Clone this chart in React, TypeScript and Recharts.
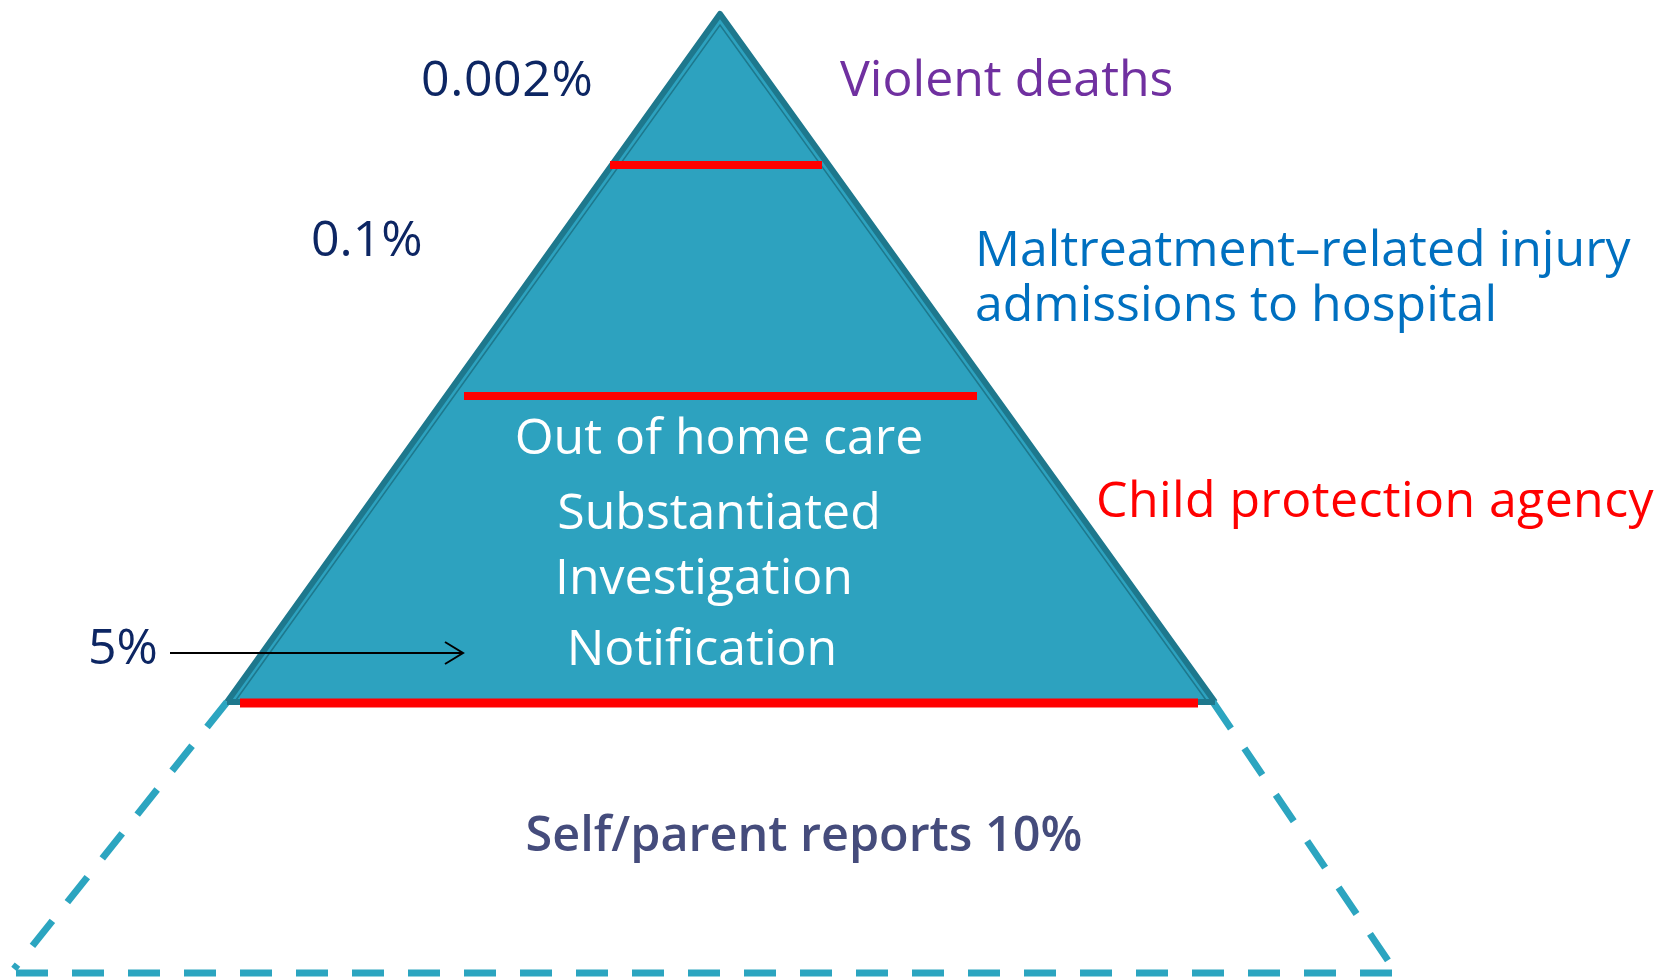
import { ComposedChart, XAxis, YAxis, Line, Area, Scatter } from 'recharts'

// Slide space: x runs left to right, y runs top to bottom (same as the picture)
const W = 1668
const H = 978

// solid part of the pyramid (agency data)
const pyramidEdge = [
  { x: 227, y: 702 },
  { x: 720, y: 14 },
  { x: 1215, y: 702 },
]
const pyramidInnerEdge = [
  { x: 236, y: 700 },
  { x: 720, y: 25 },
  { x: 1206, y: 700 },
]
const pyramidBase = [
  { x: 227, y: 702 },
  { x: 1215, y: 702 },
]

// red dividers between the tiers
const dividerTop = [
  { x: 610, y: 165 },
  { x: 822, y: 165 },
]
const dividerMiddle = [
  { x: 464, y: 396 },
  { x: 977, y: 396 },
]
const dividerBase = [
  { x: 240, y: 703 },
  { x: 1198, y: 703 },
]

// hidden part (self / parent reports), dashed
const hiddenLeft = [
  { x: 227, y: 702 },
  { x: 14, y: 969 },
]
const hiddenBottom = [
  { x: 16, y: 973 },
  { x: 1392, y: 973 },
]
const hiddenRight = [
  { x: 1213, y: 702 },
  { x: 1389, y: 962 },
]

// arrow pointing at the notification tier
const arrowShaft = [
  { x: 170, y: 653 },
  { x: 463, y: 653 },
]
const arrowHead = [
  { x: 445, y: 642 },
  { x: 463, y: 653 },
  { x: 445, y: 664 },
]

const labels = [
  { id: 'pctDeaths', text: '0.002%' },
  { id: 'deaths', text: 'Violent deaths' },
  { id: 'pctInjury', text: '0.1%' },
  { id: 'injury1', text: 'Maltreatment–related injury' },
  { id: 'injury2', text: 'admissions to hospital' },
  { id: 'agency', text: 'Child protection agency' },
  { id: 'ohc', text: 'Out of home care' },
  { id: 'subst', text: 'Substantiated' },
  { id: 'invest', text: 'Investigation' },
  { id: 'notif', text: 'Notification' },
  { id: 'pctNotif', text: '5%' },
  { id: 'selfReport', text: 'Self/parent reports 10%' },
]

const NAVY = '#0d2663'
const labelLayout: Record<
  string,
  { x: number; y: number; anchor: string; color: string; weight?: number; spacing?: number; size?: number }
> = {
  pctDeaths: { x: 421, y: 96, anchor: 'start', color: NAVY, spacing: 0.6 },
  deaths: { x: 840, y: 96, anchor: 'start', color: '#7030a0' },
  pctInjury: { x: 311, y: 256, anchor: 'start', color: NAVY },
  injury1: { x: 975, y: 266, anchor: 'start', color: '#0070c0' },
  injury2: { x: 975, y: 321, anchor: 'start', color: '#0070c0' },
  agency: { x: 1096, y: 517, anchor: 'start', color: '#ff0000', spacing: 0.4 },
  ohc: { x: 719, y: 454, anchor: 'middle', color: '#ffffff' },
  subst: { x: 719, y: 529, anchor: 'middle', color: '#ffffff' },
  invest: { x: 704, y: 594, anchor: 'middle', color: '#ffffff' },
  notif: { x: 702, y: 665, anchor: 'middle', color: '#ffffff' },
  pctNotif: { x: 88, y: 664, anchor: 'start', color: NAVY },
  selfReport: { x: 804, y: 851, anchor: 'middle', color: '#454c7c', weight: 600, size: 48.5 },
}

const labelPoints = labels.map((l) => ({ ...l, ...labelLayout[l.id] }))

const FILL = '#2da2bf'
const EDGE = '#1e788d'
const DASH = '#2ca5c0'
const RED = '#ff0000'

const renderLabel = (props: any) => {
  const { cx, cy, payload } = props
  return (
    <text
      x={cx}
      y={cy}
      textAnchor={payload.anchor}
      fill={payload.color}
      fontSize={payload.size ?? 50}
      fontWeight={payload.weight ?? 400}
      letterSpacing={payload.spacing ?? 0}
      fontFamily="'Open Sans', sans-serif"
    >
      {payload.text}
    </text>
  )
}

const seg = (data: { x: number; y: number }[], color: string, width: number, dash?: string) => (
  <Line
    data={data}
    dataKey="y"
    type="linear"
    stroke={color}
    strokeWidth={width}
    strokeDasharray={dash}
    dot={false}
    activeDot={false}
    isAnimationActive={false}
  />
)

export default function App() {
  return (
    <div style={{ position: 'absolute', left: 0, top: 0, width: W, height: H, background: '#fff' }}>
      <ComposedChart width={W} height={H} margin={{ top: 0, right: 0, bottom: 0, left: 0 }}>
        <XAxis type="number" dataKey="x" domain={[0, W]} allowDataOverflow hide />
        <YAxis type="number" domain={[0, H]} reversed allowDataOverflow hide />

        {/* dashed lower section */}
        {seg(hiddenLeft, DASH, 7, '32 24')}
        {seg(hiddenRight, DASH, 7, '32 24')}
        {seg(hiddenBottom, DASH, 7, '32 24')}

        {/* solid pyramid */}
        <Area
          data={pyramidEdge}
          dataKey="y"
          type="linear"
          baseValue={702}
          fill={FILL}
          fillOpacity={1}
          stroke={EDGE}
          strokeWidth={6}
          strokeLinejoin="round"
          dot={false}
          activeDot={false}
          isAnimationActive={false}
        />
        {seg(pyramidBase, EDGE, 6)}
        {seg(pyramidInnerEdge, EDGE, 1.5)}

        {seg(dividerTop, RED, 8)}
        {seg(dividerMiddle, RED, 8)}
        {seg(dividerBase, RED, 9)}

        {seg(arrowShaft, '#000000', 2)}
        {seg(arrowHead, '#000000', 2)}

        <Scatter data={labelPoints} dataKey="y" shape={renderLabel} isAnimationActive={false} />
      </ComposedChart>
    </div>
  )
}
